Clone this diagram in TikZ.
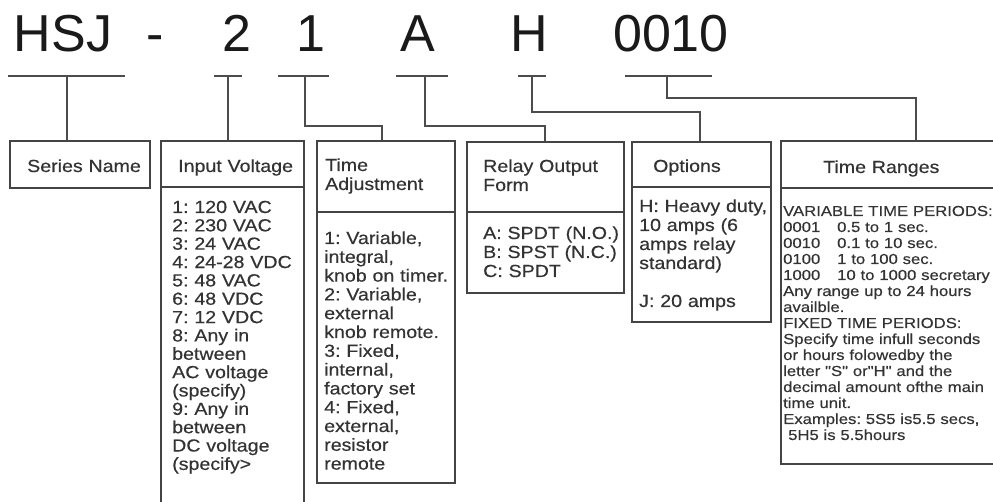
\documentclass[tikz,border=0pt]{standalone}
\usepackage{fontspec}
\setmainfont{Liberation Sans}
\newfontfamily\bodyf[FakeStretch=1.12,FakeBold=0.4]{Liberation Sans}
\newfontfamily\smallf[FakeStretch=1.15,FakeBold=0.4]{Liberation Sans}
\definecolor{boxc}{HTML}{444444}
\definecolor{linec}{HTML}{4C4C4C}
\definecolor{txtc}{HTML}{333333}
\definecolor{topc}{HTML}{1A1A1A}
\frenchspacing
\begin{document}
\begin{tikzpicture}[x=1pt,y=-1pt,
  bx/.style={draw=boxc, line width=1.6pt, inner sep=0pt, anchor=north west},
  conn/.style={draw=linec, line width=1.5pt},
  big/.style={font=\fontsize{52}{52}\selectfont, text=topc, inner sep=0pt, anchor=base},
  hd/.style={font=\bodyf\fontsize{17.5}{19}\selectfont, text=txtc, inner sep=0pt, anchor=base west, align=left, text width=200pt},
  tr/.style={font=\smallf\fontsize{14.5}{16}\selectfont, text=txtc, inner sep=0pt, anchor=base west, align=left, text width=300pt}
]
\clip (0,0) rectangle (993,502);
\fill[white] (0,0) rectangle (993,502);

% code letters
\node[big] (cHSJ) at (63,52) {HSJ};
\node[big] (cdash) at (155,52) {-};
\node[big] (c2) at (237,52) {2};
\node[big] (c1) at (311,52) {1};
\node[big] (cA) at (418,52) {A};
\node[big] (cH) at (529,52) {H};
\node[big] (c0010) at (671,52) {0010};

% boxes
\node[bx, minimum width=140pt, minimum height=47pt] (snh) at (9,140) {};
\node[bx, minimum width=143pt, minimum height=46pt] (ivh) at (160,140) {};
\node[bx, minimum width=143pt, minimum height=330pt] (ivb) at (160,186) {};
\node[bx, minimum width=138pt, minimum height=71pt] (tah) at (316,140) {};
\node[bx, minimum width=138pt, minimum height=271pt] (tab) at (316,211) {};
\node[bx, minimum width=157pt, minimum height=70pt] (roh) at (466,141) {};
\node[bx, minimum width=157pt, minimum height=81pt] (rob) at (466,211) {};
\node[bx, minimum width=139pt, minimum height=45pt] (oph) at (631,141) {};
\node[bx, minimum width=139pt, minimum height=135pt] (opb) at (631,186) {};
\node[bx, minimum width=270pt, minimum height=47pt] (trh) at (780,140) {};
\node[bx, minimum width=270pt, minimum height=276pt] (trb) at (780,187) {};

% underline coordinates
\coordinate (u0l) at (8,76);   \coordinate (u0r) at (125,76);  \coordinate (t0) at (67,76);
\coordinate (u1l) at (214,76); \coordinate (u1r) at (242,76);  \coordinate (t1) at (228,76);
\coordinate (u2l) at (278,76); \coordinate (u2r) at (329,76);  \coordinate (t2) at (305,76);
\coordinate (u3l) at (396,76); \coordinate (u3r) at (448,76);  \coordinate (t3) at (425,76);
\coordinate (u4l) at (518,76); \coordinate (u4r) at (546,76);  \coordinate (t4) at (532,76);
\coordinate (u5l) at (625,76); \coordinate (u5r) at (712,76);  \coordinate (t5) at (667,76);
\coordinate (k2) at (382,126);
\coordinate (k3) at (545,126);
\coordinate (k4) at (700,112);
\coordinate (k5) at (916,98);

\draw[conn] (u0l) -- (u0r) (u1l) -- (u1r) (u2l) -- (u2r)
            (u3l) -- (u3r) (u4l) -- (u4r) (u5l) -- (u5r);
\draw[conn] (t0) -- (t0 |- snh.north);
\draw[conn] (t1) -- (t1 |- ivh.north);
\draw[conn] (t2) |- (k2) -- (k2 |- tah.north);
\draw[conn] (t3) |- (k3) -- (k3 |- roh.north);
\draw[conn] (t4) |- (k4) -- (k4 |- oph.north);
\draw[conn] (t5) |- (k5) -- (k5 |- trh.north);

% headers
\node[hd] (sn) at (27,172) {Series Name};
\node[hd] (iv) at (178,172) {Input Voltage};
\node[hd] (ta) at (325,171) {Time\\Adjustment};
\node[hd] (ro) at (483,172) {Relay Output\\Form};
\node[hd] (op) at (653,172) {Options};
\node[hd] (trt) at (823,173) {Time Ranges};

% bodies
\node[hd, font=\bodyf\fontsize{17.5}{18.35}\selectfont] (ivt) at (172,213) {1: 120 VAC\\2: 230 VAC\\3: 24 VAC\\4: 24-28 VDC\\5: 48 VAC\\6: 48 VDC\\7: 12 VDC\\8: Any in\\between\\AC voltage\\(specify)\\9: Any in\\between\\DC voltage\\(specify>};
\node[hd, font=\bodyf\fontsize{17.5}{18.8}\selectfont] (tat) at (324,244) {1: Variable,\\integral,\\knob on timer.\\2: Variable,\\external\\knob remote.\\3: Fixed,\\internal,\\factory set\\4: Fixed,\\external,\\resistor\\remote};
\node[hd] (rot) at (483,239) {A: SPDT (N.O.)\\B: SPST (N.C.)\\C: SPDT};
\node[hd] (opt) at (639,212) {H: Heavy duty,\\10 amps (6\\amps relay\\standard)\\\mbox{}\\J: 20 amps};
\node[tr] (trt2) at (783,216) {VARIABLE TIME PERIODS:\\
\makebox[54pt][l]{0001}0.5 to 1 sec.\\
\makebox[54pt][l]{0010}0.1 to 10 sec.\\
\makebox[54pt][l]{0100}1 to 100 sec.\\
\makebox[54pt][l]{1000}10 to 1000 secretary\\
Any range up to 24 hours\\
availble.\\
FIXED TIME PERIODS:\\
Specify time infull seconds\\
or hours folowedby the\\
letter "S" or"H" and the\\
decimal amount ofthe main\\
time unit.\\
Examples: 5S5 is5.5 secs,\\
\hspace*{5pt}5H5 is 5.5hours};
\end{tikzpicture}
\end{document}
